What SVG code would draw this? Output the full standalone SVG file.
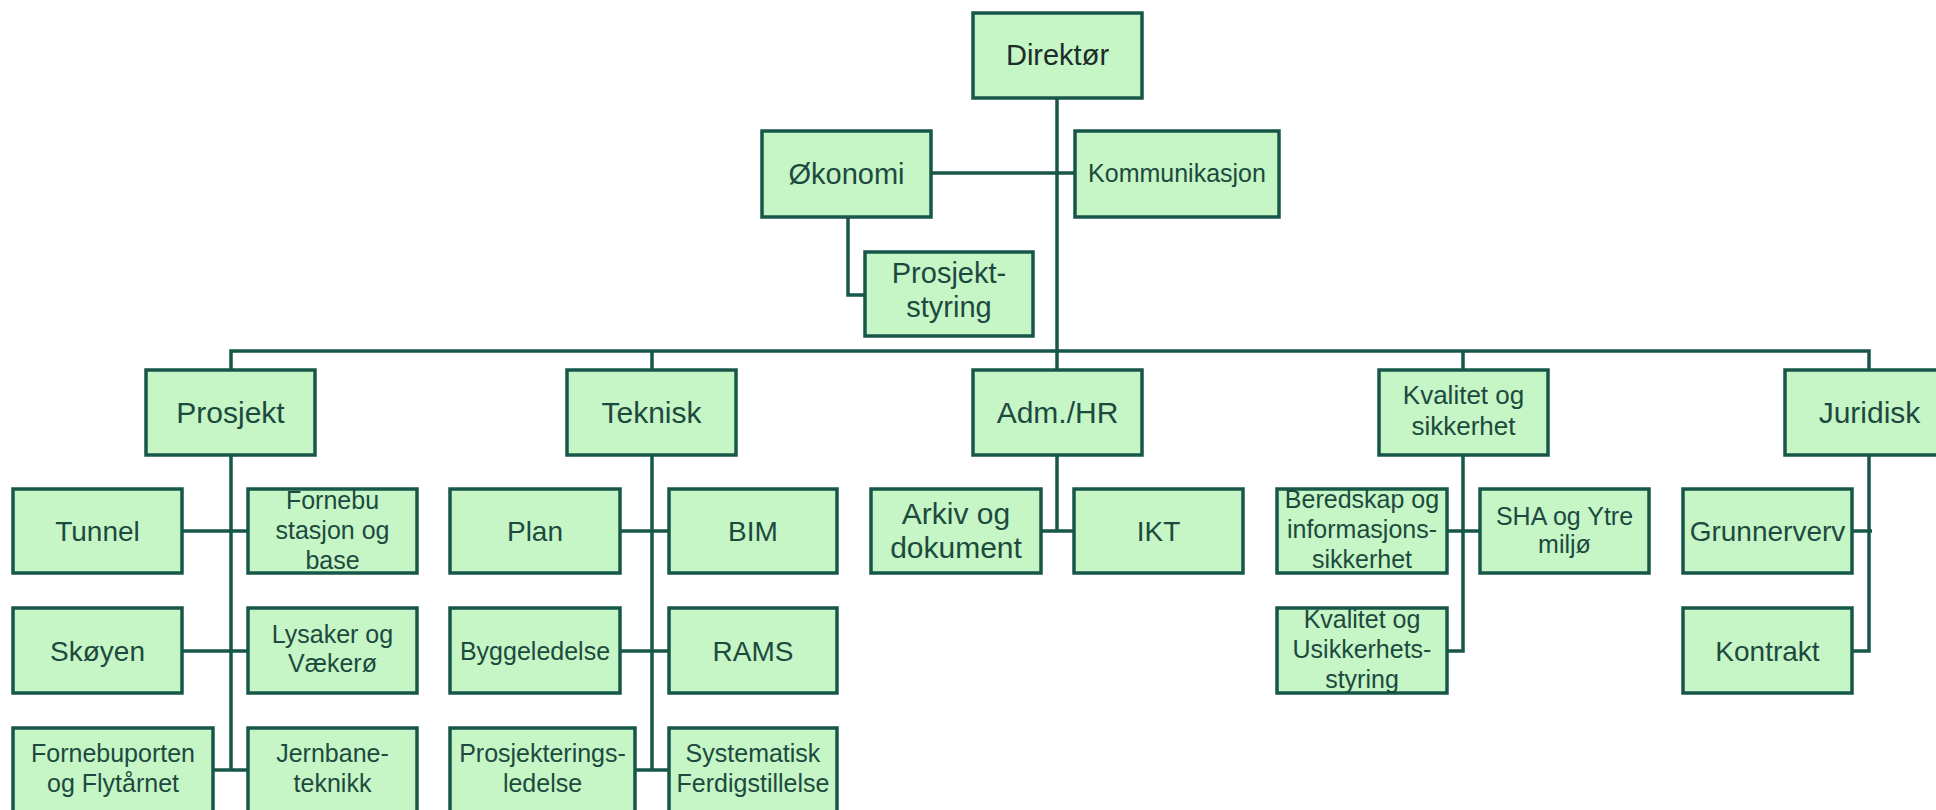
<svg xmlns="http://www.w3.org/2000/svg" width="1936" height="810" viewBox="0 0 1936 810">
<style>
.box{fill:#c6f5c6;stroke:#17574a;stroke-width:3.5}
.ln{fill:none;stroke:#17574a;stroke-width:3.5}
text{font-family:"Liberation Sans",Arial,sans-serif;fill:#1d4a3e;text-anchor:middle}
.f30{font-size:30px}.f29{font-size:29px}.f28{font-size:28px}.f26{font-size:26px}.f25{font-size:25px}.f24{font-size:24px}
</style>
<rect width="1936" height="810" fill="#ffffff"/>
<g id="connectors">
<path class="ln" d="M1057,98 V370"/>
<path class="ln" d="M931,173 H1075"/>
<path class="ln" d="M848,217 V295 H865"/>
<path class="ln" d="M231,370 V351 H1869 V370 M652,351 V370 M1463,351 V370"/>
<path class="ln" d="M231,455 V770 M182,531 H248 M182,651 H248 M213,770 H248"/>
<path class="ln" d="M652,455 V770 M620,531 H669 M620,651 H669 M635,770 H669"/>
<path class="ln" d="M1057,455 V531 M1041,531 H1074"/>
<path class="ln" d="M1463,455 V651 H1447 M1447,531 H1480"/>
<path class="ln" d="M1869,455 V651 H1852 M1852,531 H1872"/>
</g>
<g id="direktor"><rect class="box" x="973" y="13" width="169" height="85"/><text class="f29" x="1057.5" y="65" style="fill:#1c2e29">Direktør</text></g>
<g id="okonomi"><rect class="box" x="762" y="131" width="169" height="86"/><text class="f29" x="846.5" y="184">Økonomi</text></g>
<g id="kommunikasjon"><rect class="box" x="1075" y="131" width="204" height="86"/><text class="f25" x="1177" y="182">Kommunikasjon</text></g>
<g id="prosjektstyring"><rect class="box" x="865" y="252" width="168" height="84"/><text class="f29" x="949" y="283">Prosjekt-</text><text class="f29" x="949" y="317">styring</text></g>

<g id="prosjekt"><rect class="box" x="146" y="370" width="169" height="85"/><text class="f30" x="230.5" y="423">Prosjekt</text></g>
<g id="teknisk"><rect class="box" x="567" y="370" width="169" height="85"/><text class="f30" x="651.5" y="423">Teknisk</text></g>
<g id="admhr"><rect class="box" x="973" y="370" width="169" height="85"/><text class="f30" x="1057.5" y="423">Adm./HR</text></g>
<g id="kvalitet"><rect class="box" x="1379" y="370" width="169" height="85"/><text class="f26" x="1463.5" y="404">Kvalitet og</text><text class="f26" x="1463.5" y="435">sikkerhet</text></g>
<g id="juridisk"><rect class="box" x="1785" y="370" width="169" height="85"/><text class="f30" x="1869.5" y="423">Juridisk</text></g>

<g id="tunnel"><rect class="box" x="13" y="489" width="169" height="84"/><text class="f28" x="97.5" y="541">Tunnel</text></g>
<g id="fornebu"><rect class="box" x="248" y="489" width="169" height="84"/><text class="f25" x="332.5" y="509">Fornebu</text><text class="f25" x="332.5" y="539">stasjon og</text><text class="f25" x="332.5" y="569">base</text></g>
<g id="skoyen"><rect class="box" x="13" y="608" width="169" height="85"/><text class="f28" x="97.5" y="661">Skøyen</text></g>
<g id="lysaker"><rect class="box" x="248" y="608" width="169" height="85"/><text class="f25" x="332.5" y="643">Lysaker og</text><text class="f25" x="332.5" y="672">Vækerø</text></g>
<g id="fornebuporten"><rect class="box" x="13" y="728" width="200" height="85"/><text class="f25" x="113" y="762">Fornebuporten</text><text class="f25" x="113" y="792">og Flytårnet</text></g>
<g id="jernbane"><rect class="box" x="248" y="728" width="169" height="85"/><text class="f25" x="332.5" y="762">Jernbane-</text><text class="f25" x="332.5" y="792">teknikk</text></g>

<g id="plan"><rect class="box" x="450" y="489" width="170" height="84"/><text class="f28" x="535" y="541">Plan</text></g>
<g id="bim"><rect class="box" x="669" y="489" width="168" height="84"/><text class="f28" x="753" y="541">BIM</text></g>
<g id="byggeledelse"><rect class="box" x="450" y="608" width="170" height="85"/><text class="f25" x="535" y="660">Byggeledelse</text></g>
<g id="rams"><rect class="box" x="669" y="608" width="168" height="85"/><text class="f28" x="753" y="661">RAMS</text></g>
<g id="prosjektering"><rect class="box" x="450" y="728" width="185" height="85"/><text class="f25" x="542.5" y="762">Prosjekterings-</text><text class="f25" x="542.5" y="792">ledelse</text></g>
<g id="systematisk"><rect class="box" x="669" y="728" width="168" height="85"/><text class="f25" x="753" y="762">Systematisk</text><text class="f25" x="753" y="792">Ferdigstillelse</text></g>

<g id="arkiv"><rect class="box" x="871" y="489" width="170" height="84"/><text class="f30" x="956" y="524">Arkiv og</text><text class="f30" x="956" y="558">dokument</text></g>
<g id="ikt"><rect class="box" x="1074" y="489" width="169" height="84"/><text class="f28" x="1158.5" y="541">IKT</text></g>

<g id="beredskap"><rect class="box" x="1277" y="489" width="170" height="84"/><text class="f25" x="1362" y="508">Beredskap og</text><text class="f25" x="1362" y="538">informasjons-</text><text class="f25" x="1362" y="568">sikkerhet</text></g>
<g id="sha"><rect class="box" x="1480" y="489" width="169" height="84"/><text class="f25" x="1564.5" y="525">SHA og Ytre</text><text class="f25" x="1564.5" y="553">miljø</text></g>
<g id="kvalitetusikkerhet"><rect class="box" x="1277" y="608" width="170" height="85"/><text class="f25" x="1362" y="628">Kvalitet og</text><text class="f25" x="1362" y="658">Usikkerhets-</text><text class="f25" x="1362" y="688">styring</text></g>

<g id="grunnerverv"><rect class="box" x="1683" y="489" width="169" height="84"/><text class="f28" x="1767.5" y="541">Grunnerverv</text></g>
<g id="kontrakt"><rect class="box" x="1683" y="608" width="169" height="85"/><text class="f28" x="1767.5" y="661">Kontrakt</text></g>
</svg>
